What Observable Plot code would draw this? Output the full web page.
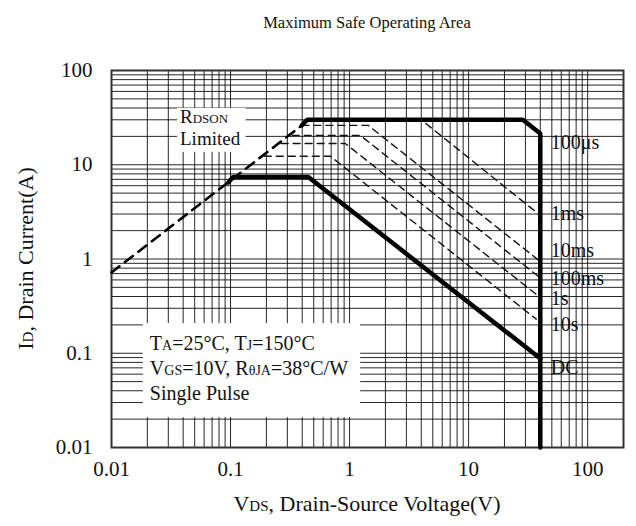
<!DOCTYPE html>
<html><head><meta charset="utf-8">
<script src="https://cdn.jsdelivr.net/npm/d3@7"></script>
<script src="https://cdn.jsdelivr.net/npm/@observablehq/plot@0.6"></script>
<style>body{margin:0;background:#fff} svg{display:block}</style>
</head><body><div id="chart"></div>
<script>
// ---- data ----
const xDomain = [0.01, 200];
const yDomain = [0.01, 100];
const xTicks = [0.01, 0.1, 1, 10, 100];
const xTickLabels = ["0.01", "0.1", "1", "10", "100"];
const yTicks = [0.01, 0.1, 1, 10, 100];
const yTickLabels = ["0.01", "0.1", "1", "10", "100"];

// RDS(on) limit (dashed)
const rdsonV = [0.01, 0.398];
const rdsonI = [0.72, 26.2];
// 100us (thick)
const us100V = [0.398, 0.44, 28.5, 40, 40];
const us100I = [26.2, 30, 30, 21.5, 0.01];
// pulse curves (thin dashed)
const ms1V = [0.44, 4.0, 40];
const ms1I = [30, 30, 2.9];
const ms10V = [0.398, 1.43, 40];
const ms10I = [26.2, 26.2, 0.94];
const ms100V = [0.33, 1.23, 40];
const ms100I = [20.5, 20.5, 0.63];
const s1V = [0.266, 0.92, 40];
const s1I = [16.8, 16.8, 0.39];
const s10V = [0.192, 0.69, 37];
const s10I = [12.3, 12.3, 0.23];
// DC (thick)
const dcV = [0.096, 0.105, 0.45, 40];
const dcI = [6.5, 7.4, 7.4, 0.088];

// curve labels
const curveLabels = ["100μs", "1ms", "10ms", "100ms", "1s", "10s", "DC"];
const curveLabelV = [49, 49, 49, 49, 49, 49, 49];
const curveLabelI = [17.3, 3.05, 1.23, 0.62, 0.38, 0.20, 0.0703];

// texts
const titleText = "Maximum Safe Operating Area";
const xTitleParts = [["V", 0], ["DS", 1], [", Drain-Source Voltage(V)", 0]];
const yTitleParts = [["I", 0], ["D", 1], [", Drain Current(A)", 0]];
const rdsonParts = [[["R", 0], ["DSON", 1]], [["Limited", 0]]];
const rdsonPos = [0.038, 27.5];
const legendParts = [
  [["T", 0], ["A", 1], ["=25°C, T", 0], ["J", 1], ["=150°C", 0]],
  [["V", 0], ["GS", 1], ["=10V, R", 0], ["θJA", 1], ["=38°C/W", 0]],
  [["Single Pulse", 0]]
];
const legendPos = [0.0212, 0.1066];

// ---- build ----
const mk = (V, I) => V.map((v, k) => ({v, i: I[k]}));
const gridX = d3.scaleLog().domain(xDomain).ticks();
const gridY = d3.scaleLog().domain(yDomain).ticks();
const lookup = (ticks, labels) => d => {
  const k = ticks.findIndex(t => Math.abs(t - d) / t < 1e-6);
  return k < 0 ? "" : labels[k];
};
const FONT = "'Liberation Serif', 'DejaVu Serif', serif";
const INK = "#111";

const thin = {x: "v", y: "i", stroke: INK, strokeWidth: 1.4, strokeDasharray: "7,5"};
const thick = {x: "v", y: "i", stroke: "#000", strokeWidth: 4.5, strokeLinejoin: "miter"};

const chart = Plot.plot({
  width: 636, height: 526,
  marginLeft: 111, marginRight: 13, marginTop: 70, marginBottom: 79,
  style: {fontFamily: FONT, fontSize: "21px", background: "#fff", color: INK},
  x: {type: "log", domain: xDomain, ticks: xTicks, tickFormat: lookup(xTicks, xTickLabels), tickSize: 0, tickPadding: 14, label: null},
  y: {type: "log", domain: yDomain, ticks: yTicks, tickFormat: lookup(yTicks, yTickLabels), tickSize: 0, tickPadding: 19, label: null},
  marks: [
    Plot.ruleX(gridX, {stroke: "#000", strokeOpacity: 0.85, strokeWidth: 1}),
    Plot.ruleY(gridY, {stroke: "#000", strokeOpacity: 0.85, strokeWidth: 1}),
    Plot.frame({stroke: "#333", strokeWidth: 2}),
    Plot.line(mk(rdsonV, rdsonI), {x: "v", y: "i", stroke: "#000", strokeWidth: 2.6, strokeDasharray: "10,7"}),
    Plot.line(mk(ms1V, ms1I), thin),
    Plot.line(mk(ms10V, ms10I), thin),
    Plot.line(mk(ms100V, ms100I), thin),
    Plot.line(mk(s1V, s1I), thin),
    Plot.line(mk(s10V, s10I), thin),
    Plot.line(mk(us100V, us100I), thick),
    Plot.line(mk(dcV, dcI), thick),
    Plot.text(curveLabels.map((t, k) => ({t, v: curveLabelV[k], i: curveLabelI[k]})),
      {x: "v", y: "i", text: "t", textAnchor: "start", lineAnchor: "middle", fontSize: 20, fill: INK, ariaLabel: "curve-labels"})
  ]
});
document.getElementById("chart").append(chart);

// ---- post-process ----
const svg = d3.select(chart.tagName.toLowerCase() === "svg" ? chart : chart.querySelector("svg"));
const sxs = chart.scale("x"), sys = chart.scale("y");
const sx = d3.scaleLog().domain(sxs.domain).range(sxs.range);
const sy = d3.scaleLog().domain(sys.domain).range(sys.range);
const [x0, x1] = sxs.range, [y0, y1] = [Math.min(...sys.range), Math.max(...sys.range)];

// white boxes behind curve labels
svg.selectAll('g[aria-label="curve-labels"] text').each(function() {
  const b = this.getBBox();
  const r = document.createElementNS("http://www.w3.org/2000/svg", "rect");
  r.setAttribute("x", b.x - 1); r.setAttribute("y", b.y);
  r.setAttribute("width", b.width + 2); r.setAttribute("height", b.height);
  r.setAttribute("fill", "#fff");
  if (this.getAttribute("transform")) r.setAttribute("transform", this.getAttribute("transform"));
  this.parentNode.insertBefore(r, this);
});

// one <text> per block; lines as tspans
function richBlock(parent, x, y, lines, lineH, {anchor = "start", size = 20, small = 14, rotate = false} = {}) {
  const t = parent.append("text").attr("x", x).attr("y", y).attr("text-anchor", anchor)
    .attr("font-size", size).attr("font-family", FONT).attr("fill", INK);
  if (rotate) t.attr("transform", `rotate(-90 ${x} ${y})`);
  lines.forEach((parts, k) => {
    parts.forEach(([s, sm], j) => {
      const ts = t.append("tspan").attr("font-size", sm ? small : size).text(s);
      if (k > 0 && j === 0) ts.attr("x", x).attr("dy", lineH);
    });
  });
  return t;
}
function boxed(lines, px, py, lineH, pad, size) {
  const g = svg.append("g");
  const bg = g.append("rect").attr("fill", "#fff");
  const t = richBlock(g, px, py, lines, lineH, {size, small: Math.round(size * 0.7)});
  const b = t.node().getBBox();
  bg.attr("x", b.x - pad[3]).attr("y", b.y - pad[0])
    .attr("width", b.width + pad[1] + pad[3]).attr("height", b.height + pad[0] + pad[2]);
}

boxed(rdsonParts, sx(rdsonPos[0]), sy(rdsonPos[1]), 22, [-2, 5, 3, 3], 19);
boxed(legendParts, sx(legendPos[0]), sy(legendPos[1]), 25, [9, 12, 12, 7], 20);

const cx = (x0 + x1) / 2;
svg.append("text").attr("x", cx).attr("y", 28).attr("text-anchor", "middle")
  .attr("font-size", 16.5).attr("font-family", FONT).attr("fill", INK).text(titleText);
richBlock(svg, cx, 511, [xTitleParts], 0, {anchor: "middle", size: 22, small: 15});
richBlock(svg, 33, (y0 + y1) / 2, [yTitleParts], 0, {anchor: "middle", size: 22, small: 15, rotate: true});
</script>
</body></html>
